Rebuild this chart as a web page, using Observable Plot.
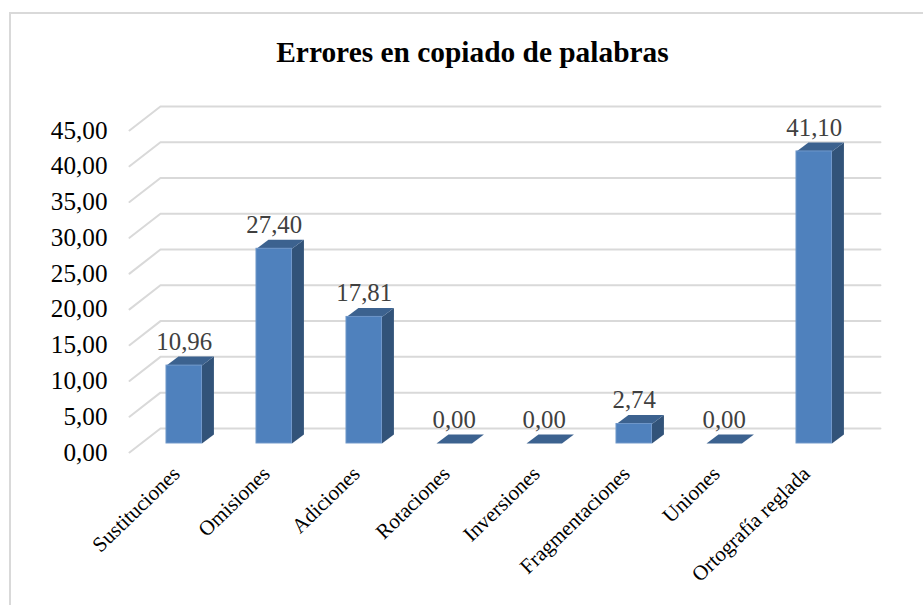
<!DOCTYPE html>
<html><head><meta charset="utf-8">
<script src="https://cdn.jsdelivr.net/npm/d3@7"></script>
<script src="https://cdn.jsdelivr.net/npm/@observablehq/plot@0.6"></script>
<style>
html,body{margin:0;padding:0;background:#fff;overflow:hidden}
#frame{position:absolute;left:9px;top:12px;width:914px;height:593px;border-left:2px solid #d9d9d9;border-top:2px solid #d9d9d9;box-sizing:border-box}
#title{position:absolute;left:11px;top:36px;width:923px;text-align:center;font:bold 29.4px "Liberation Serif",serif;color:#000;line-height:32px}
#chart{position:absolute;left:0;top:80px}
</style></head><body>
<div id="frame"></div>
<div id="title">Errores en copiado de palabras</div>
<div id="chart"></div>
<script>
const categories = ["Sustituciones","Omisiones","Adiciones","Rotaciones","Inversiones","Fragmentaciones","Uniones","Ortografía reglada"];
const values = [10.96,27.40,17.81,0,0,2.74,0,41.10];
const yTicks = [0,5,10,15,20,25,30,35,40,45];
const comma = v => v.toFixed(2).replace(".", ",");

// Oblique-projection depths, in data units
const wallDX = 0.344, wallDY = 3.365;   // floor front edge to back wall
const barOffX = 0.108, barOffY = 1.26;  // front face of the bar from the floor front edge
const barDX = 0.133, barDY = 1.26;      // depth of a bar
const halfW = 0.197;
const perspective = 0.993;              // bars sit further back, so they draw slightly smaller

const grid = yTicks.flatMap(v => [
  {v, x: 0, y: v},
  {v, x: wallDX, y: v + wallDY},
  {v, x: 8 + wallDX, y: v + wallDY}
]);
const bars = categories.map((c, i) => {
  const cx = i + 0.5 + barOffX;
  return {c, v: values[i], x1: cx - halfW, x2: cx + halfW, y1: barOffY, y2: barOffY + values[i] * perspective, cx};
});
const side = bars.flatMap(b => [
  {k: b.c, x: b.x2, y: b.y1}, {k: b.c, x: b.x2 + barDX, y: b.y1 + barDY},
  {k: b.c, x: b.x2 + barDX, y: b.y2 + barDY}, {k: b.c, x: b.x2, y: b.y2}
]);
const top_ = bars.flatMap(b => [
  {k: b.c, x: b.x1, y: b.y2}, {k: b.c, x: b.x1 + barDX, y: b.y2 + barDY},
  {k: b.c, x: b.x2 + barDX, y: b.y2 + barDY}, {k: b.c, x: b.x2, y: b.y2}
]);

const serif = '"Liberation Serif", serif';
const plot = Plot.plot({
  width: 923, height: 525,
  marginLeft: 129, marginRight: 74, marginTop: 50, marginBottom: 153,
  style: {fontFamily: serif, background: "transparent", overflow: "visible"},
  x: {type: "linear", domain: [0, 8]},
  y: {domain: [0, 45]},
  marks: [
    Plot.line(grid, {x: "x", y: "y", z: "v", stroke: "#d9d9d9", strokeWidth: 2}),
    Plot.line(side, {x: "x", y: "y", z: "k", fill: "#325379", stroke: "none"}),
    Plot.line(top_, {x: "x", y: "y", z: "k", fill: "#3c628f", stroke: "none"}),
    Plot.rect(bars, {x1: "x1", x2: "x2", y1: "y1", y2: "y2", fill: "#4f81bd", stroke: "#6f97c9", strokeWidth: 1}),
    Plot.text(bars, {x: "cx", y: "y2", text: d => comma(d.v), dy: -23.5, fill: "#404040", fontSize: 24.8}),
    Plot.axisY({ticks: yTicks, tickFormat: comma, tickSize: 0, tickPadding: 22, fontSize: 25.2, label: null, fill: "#000"}),
    Plot.axisX({ticks: categories.map((c, i) => i + 0.5), tickFormat: v => categories[Math.floor(v)], tickSize: 0, tickPadding: 18, dx: 2, tickRotate: -44, fontSize: 21, label: null, fill: "#000"})
  ]
});
document.getElementById("chart").append(plot);
</script>
</body></html>
